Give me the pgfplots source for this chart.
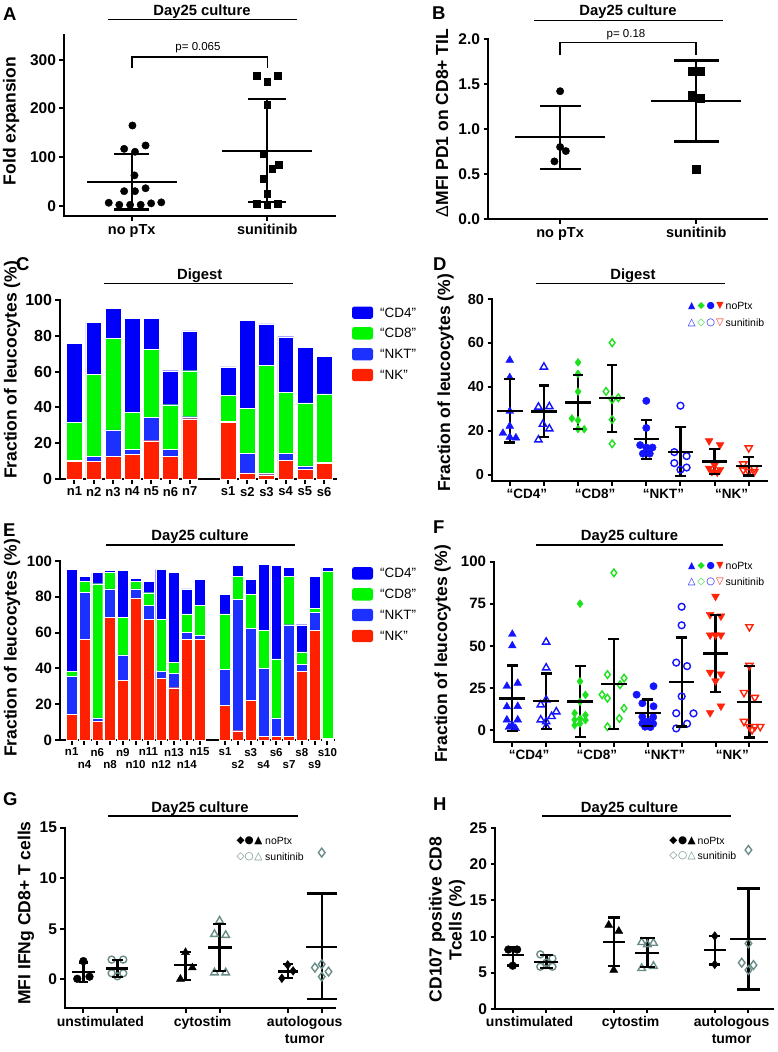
\documentclass[border=0pt]{standalone}
\usepackage{fontspec}
\setmainfont{Liberation Sans}
\newfontfamily\djv{DejaVu Sans}
\usepackage{pgfplots}
\pgfplotsset{compat=1.18}
\definecolor{cblue}{RGB}{0,0,250}
\definecolor{cnkt}{RGB}{28,48,255}
\definecolor{cgreen}{RGB}{0,245,0}
\definecolor{cred}{RGB}{255,32,0}
\definecolor{mblue}{RGB}{20,20,255}
\definecolor{mgreen}{RGB}{30,225,30}
\definecolor{mred}{RGB}{255,35,10}
\definecolor{sgrey}{RGB}{105,140,135}
\newcommand\fs[1]{\fontsize{#1}{#1}\selectfont}
\newcommand\msd[6]{%
 \addplot[black, line width=2.3pt, forget plot] coordinates {(#1,#3) (#1,#4)};
 \addplot[black, only marks, mark=-, mark size=#6pt, mark options={line width=2.3pt}, forget plot] coordinates {(#1,#3) (#1,#4)};
 \addplot[black, only marks, mark=-, mark size=#5pt, mark options={line width=2.3pt}, forget plot] coordinates {(#1,#2)};
}
\pgfplotsset{
 base/.style={scale only axis, anchor=south west, clip=false,
   axis x line*=bottom, axis y line*=left,
   axis line style={line width=2pt, line cap=rect, -},
   every outer x axis line/.append style={-}, every outer y axis line/.append style={-},
   tick align=outside, major tick length=4.5pt,
   tick style={line width=2pt, black},
   /pgf/number format/assume math mode=true},
 barseg/.style={draw=white, line width=0.35pt},
 mTriF/.style={only marks, mblue, mark=triangle*, mark size=4.5pt},
 mTriO/.style={only marks, mblue, mark=triangle, mark size=4.2pt, mark options={line width=1.4pt}},
 mDiaF/.style={only marks, mgreen, mark=diamond*, mark size=4pt},
 mDiaO/.style={only marks, mgreen, mark=diamond, mark size=3.8pt, mark options={line width=1.4pt}},
 mCirF/.style={only marks, mblue, mark=*, mark size=3.7pt},
 mCirO/.style={only marks, mblue, mark=o, mark size=3.4pt, mark options={line width=1.4pt}},
 mDowF/.style={only marks, mred, mark=triangle*, mark size=4.5pt, mark options={rotate=180}},
 mDowO/.style={only marks, mred, mark=triangle, mark size=4.2pt, mark options={rotate=180, line width=1.4pt}},
 gCirF/.style={only marks, black, mark=*, mark size=3.9pt},
 gCirO/.style={only marks, sgrey, mark=o, mark size=3.5pt, mark options={line width=1.4pt}},
 gTriF/.style={only marks, black, mark=triangle*, mark size=4.6pt},
 gTriO/.style={only marks, sgrey, mark=triangle, mark size=4.4pt, mark options={line width=1.4pt}},
 gDiaF/.style={only marks, black, mark=diamond*, mark size=4.4pt},
 gDiaO/.style={only marks, sgrey, mark=diamond, mark size=4.4pt, mark options={line width=1.4pt}},
}
\begin{document}
\begin{tikzpicture}
\path[use as bounding box] (0pt,0pt) rectangle (777pt,-1052pt);

% ================= A
\begin{axis}[base, at={(64pt,-216pt)}, width=271pt, height=181pt,
 xmin=0.5, xmax=2.5, ymin=-21, ymax=351,
 ytick={0,100,200,300}, xtick={1,2}, xticklabels={no pTx,sunitinib},
 yticklabel style={font=\bfseries\fs{15.5}}, xticklabel style={font=\bfseries\fs{14.5}}]
\addplot[only marks, black, mark=*, mark size=3.7pt] coordinates {(1.005,165)(0.944,117)(1.102,124)(1.024,111)(1.02,62.5)(0.944,30)(1.024,30)(1.102,36)(0.83,6.2)(0.908,2)(0.988,2)(1.066,2)(1.143,5)(1.218,7)};
\addplot[only marks, black, mark=square*, mark size=3.4pt] coordinates {(1.922,267)(2,255)(2.08,267)(2,207)(1.97,106)(2.085,84)(2.036,77)(1.97,56)(2,25)(1.922,5)(2,2)(2.08,4)};
\msd{1}{49}{106}{-7.6}{45}{17.5}
\msd{2}{112.5}{220}{7.6}{45}{19}
\addplot[black, line width=1.5pt] coordinates {(1,283)(1,306)(2,306)(2,283)};
\end{axis}

% ================= B
\begin{axis}[base, at={(488pt,-219pt)}, width=279pt, height=180pt,
 xmin=0.47, xmax=2.52, ymin=0, ymax=2,
 ytick={0,0.5,1,1.5,2}, xtick={1,2}, xticklabels={no pTx,sunitinib},
 yticklabel style={font=\bfseries\fs{15.5}, /pgf/number format/fixed, /pgf/number format/fixed zerofill, /pgf/number format/precision=1},
 xticklabel style={font=\bfseries\fs{14.5}}]
\addplot[only marks, black, mark=*, mark size=3.7pt] coordinates {(1,1.42)(1,0.80)(1.042,0.755)(0.958,0.64)};
\addplot[only marks, black, mark=square*, mark size=4pt] coordinates {(1.968,1.64)(2.03,1.64)(1.968,1.38)(2.03,1.345)(2,0.55)};
\msd{1}{0.91}{1.255}{0.555}{45}{20.5}
\msd{2}{1.315}{1.76}{0.86}{45}{22.5}
\addplot[black, line width=1.5pt] coordinates {(1,1.82)(1,1.96)(2,1.96)(2,1.82)};
\end{axis}

% ================= C
\begin{axis}[base, at={(60pt,-479pt)}, width=276pt, height=179pt,
 xmin=0.245, xmax=14.62, ymin=0, ymax=100, ybar stacked, bar width=0.82,
 ytick={0,20,40,60,80,100}, xtick={1,2,3,4,5,6,7,9,10,11,12,13,14},
 xticklabels={n1,n2,n3,n4,n5,n6,n7,s1,s2,s3,s4,s5,s6},
 yticklabel style={font=\bfseries\fs{16}}, xticklabel style={font=\bfseries\fs{13}}]
\addplot[fill=cred, barseg] coordinates {(1,9.7)(2,9.7)(3,12.5)(4,13.6)(5,21.4)(6,12.5)(7,33.7)(9,31.5)(10,3.4)(11,2.4)(12,10.4)(13,5.4)(14,8.6)};
\addplot[fill=cnkt, barseg] coordinates {(1,0.9)(2,2.8)(3,14.9)(4,3.0)(5,13.1)(6,4.1)(7,1.1)(9,0.9)(10,10.9)(11,1.0)(12,3.9)(13,2.0)(14,0.9)};
\addplot[fill=cgreen, barseg] coordinates {(1,20.9)(2,46.0)(3,51.2)(4,20.8)(5,37.9)(6,24.9)(7,25.7)(9,14.2)(10,25.2)(11,60.1)(12,34.3)(13,35.1)(14,38.0)};
\addplot[fill=cblue, barseg] coordinates {(1,44.3)(2,29.0)(3,16.9)(4,52.2)(5,17.2)(6,19.0)(7,22.2)(9,16.0)(10,49.1)(11,23.1)(12,30.9)(13,31.1)(14,21.0)};
\end{axis}

% ================= D
\begin{axis}[base, at={(492pt,-481pt)}, width=275pt, height=182pt,
 xmin=0.48, xmax=8.535, ymin=-2.73, ymax=80,
 ytick={0,20,40,60,80}, xtick={1,2,3,4,5,6,7,8}, xticklabels={,,,,,,,},
 extra x ticks={1.5,3.5,5.5,7.5}, extra x tick labels={“CD4”,“CD8”,“NKT”,“NK”},
 extra x tick style={major tick length=0pt, tick label style={yshift=-4.5pt}},
 yticklabel style={font=\bfseries\fs{14.5}}, xticklabel style={font=\bfseries\fs{13.5}}]
\addplot[mTriF] coordinates {(1,52.2)(1,44.3)(1,29.0)(1,22.2)(0.8,19.0)(1,17.2)(1.18,16.9)};
\addplot[mTriO] coordinates {(2,49.1)(2.16,31.1)(1.84,30.9)(1.97,23.1)(2.16,21.0)(1.84,16.0)};
\addplot[mDiaF] coordinates {(3,51.2)(3,46.0)(3,37.9)(2.82,25.7)(3,24.9)(3,20.9)(3.18,20.8)};
\addplot[mDiaO] coordinates {(4,60.1)(3.82,38.0)(4.18,35.1)(4,34.3)(4,25.2)(4,14.2)};
\addplot[mCirF] coordinates {(5,33.7)(5,21.4)(4.82,13.6)(5.18,12.5)(5,12.5)(4.9,9.7)(5.1,9.7)};
\addplot[mCirO] coordinates {(6,31.5)(5.82,10.4)(6.18,8.6)(5.82,5.4)(6.18,3.4)(6,2.4)};
\addplot[mDowF] coordinates {(6.84,15.5)(7.16,13.7)(7,4.5)(6.84,3.0)(7.16,2.5)(6.92,1.5)(7.08,1.2)};
\addplot[mDowO] coordinates {(8,12.3)(7.84,5.0)(8.16,3.0)(7.84,2.3)(8,1.5)(8.16,1.5)};
\msd{1}{29.1}{43.6}{14.8}{12.8}{5.3}
\msd{2}{28.9}{40.7}{17.2}{12.8}{5.3}
\msd{3}{33}{45.3}{20.8}{12.8}{5.3}
\msd{4}{34.9}{50.1}{19.7}{12.8}{5.3}
\msd{5}{16.3}{25}{7.2}{12.8}{5.3}
\msd{6}{10.6}{21.7}{-0.4}{12.8}{5.3}
\msd{7}{6.1}{11.9}{0.5}{12.8}{5.3}
\msd{8}{4.1}{8.3}{-0.2}{12.8}{5.3}
\end{axis}

% ================= E
\begin{axis}[base, at={(60pt,-740pt)}, width=274pt, height=179pt,
 xmin=0.085, xmax=21.52, ymin=0, ymax=100, ybar stacked, bar width=0.85,
 ytick={0,20,40,60,80,100}, xtick={1,3,5,7,9,11,13,15,17,19,21},
 xticklabels={n1,n6,n9,n11,n13,n15,s1,s3,s6,s8,s10},
 extra x ticks={2,4,6,8,10,14,16,18,20}, extra x tick labels={n4,n8,n10,n12,n14,s2,s4,s7,s9},
 extra x tick style={tick label style={yshift=-12.7pt}},
 yticklabel style={font=\bfseries\fs{15}}, xticklabel style={font=\bfseries\fs{11.5}}]
\addplot[fill=cred, barseg] coordinates {(1,14.3)(2,56.4)(3,10.4)(4,68.5)(5,33.3)(6,79.3)(7,67.6)(8,34.3)(9,29.2)(10,56.4)(11,56.4)(13,19.4)(14,5.2)(15,22.3)(16,2.2)(17,2.2)(18,2.2)(19,38.4)(20,61.3)(21,0.3)};
\addplot[fill=cnkt, barseg] coordinates {(1,21.1)(2,26.1)(3,1.9)(4,16.0)(5,14.2)(6,5.2)(7,7.8)(8,4.1)(9,8.0)(10,3.9)(11,2.1)(13,20.1)(14,73.2)(15,40.1)(16,38.0)(17,10.1)(18,62.2)(19,3.9)(20,10.0)(21,0.8)};
\addplot[fill=cgreen, barseg] coordinates {(1,3.0)(2,6.0)(3,75.0)(4,9.0)(5,21.0)(6,4.0)(7,6.9)(8,29.0)(9,6.2)(10,10.1)(11,16.9)(13,30.9)(14,13.0)(15,19.0)(16,21.1)(17,33.0)(18,27.0)(19,7.0)(20,2.1)(21,93.3)};
\addplot[fill=cblue, barseg] coordinates {(1,56.9)(2,3.1)(3,6.2)(4,1.1)(5,26.1)(6,1.8)(7,6.2)(8,27.9)(9,50.1)(10,14.0)(11,14.2)(13,11.0)(14,6.2)(15,8.2)(16,37.0)(17,52.3)(18,5.1)(19,15.1)(20,18.0)(21,2.1)};
\end{axis}

% ================= F
\begin{axis}[base, at={(494pt,-742pt)}, width=273pt, height=180.5pt,
 xmin=0.46, xmax=8.52, ymin=-6.95, ymax=100,
 ytick={0,25,50,75,100}, xtick={1,2,3,4,5,6,7,8}, xticklabels={,,,,,,,},
 extra x ticks={1.5,3.5,5.5,7.5}, extra x tick labels={“CD4”,“CD8”,“NKT”,“NK”},
 extra x tick style={major tick length=0pt, tick label style={yshift=-4.5pt}},
 yticklabel style={font=\bfseries\fs{15}}, xticklabel style={font=\bfseries\fs{13.5}}]
\addplot[mTriF] coordinates {(1,56.9)(1,50.1)(1.16,27.9)(0.84,26.1)(1.16,14.2)(0.84,14.0)(0.84,6.2)(1.16,6.2)(1,3.1)(0.9,1.8)(1.1,1.1)};
\addplot[mTriO] coordinates {(2,52.3)(2,37.0)(2,18.0)(1.84,15.1)(2.3,11.0)(2.16,8.2)(1.84,6.2)(2,5.1)(2,2.1)};
\addplot[mDiaF] coordinates {(3,75.0)(3,29.0)(3.16,21.0)(3,16.9)(2.84,10.1)(3.16,9.0)(3,6.9)(2.84,6.2)(3.16,6.0)(3,4.0)(2.84,3.0)};
\addplot[mDiaO] coordinates {(4,93.3)(3.81,33.0)(4.3,30.9)(4.18,27.0)(3.65,21.1)(3.81,19.0)(4.3,13.0)(4.16,7.0)(3.81,2.1)};
\addplot[mCirF] coordinates {(5.17,26.1)(4.67,21.1)(4.84,16.0)(5.17,14.2)(4.84,8.0)(5.16,7.8)(5,5.2)(4.84,4.1)(5.16,3.9)(4.92,2.1)(5.08,1.9)};
\addplot[mCirO] coordinates {(6,73.2)(6,62.2)(5.84,40.1)(6.16,38.0)(6,20.1)(5.84,10.1)(6.35,10.0)(6.16,3.9)(5.84,1.1)};
\addplot[mDowF] coordinates {(7,79.3)(6.84,68.5)(7.16,67.6)(6.84,56.4)(7.16,56.4)(7,56.4)(6.84,34.3)(7.16,33.3)(7,29.2)(7.16,14.3)(6.84,10.4)};
\addplot[mDowO] coordinates {(8,61.3)(8,38.4)(7.84,22.3)(8.16,19.4)(7.84,5.2)(8,2.2)(8.16,2.2)(8.32,2.2)(8.08,0.3)};
\msd{1}{18.8}{38.4}{-0.5}{12.8}{5.5}
\msd{2}{17.3}{33.7}{0.6}{12.8}{5.5}
\msd{3}{17.1}{37.9}{-3.9}{12.8}{5.5}
\msd{4}{27.4}{54.2}{0.6}{12.8}{5.5}
\msd{5}{10.1}{18.3}{2.4}{12.8}{5.5}
\msd{6}{28.5}{55}{2.2}{12.8}{5.5}
\msd{7}{45.5}{68.4}{22.7}{12.8}{5.5}
\msd{8}{16.9}{37.9}{-4.3}{12.8}{5.5}
\end{axis}

% ================= G
\begin{axis}[base, at={(65pt,-1008.3pt)}, width=270pt, height=180.6pt,
 xmin=0.46, xmax=8.39, ymin=-2.87, ymax=15,
 ytick={0,5,10,15}, xtick={1,2,4,5,7,8}, xticklabels={,,,,,},
 extra x ticks={1.5,4.5,7.5}, extra x tick labels={unstimulated,cytostim,autologous\\tumor},
 extra x tick style={major tick length=0pt, tick label style={yshift=-4.5pt, align=center}},
 yticklabel style={font=\bfseries\fs{15.5}}, xticklabel style={font=\bfseries\fontsize{14}{16.7}\selectfont}]
\addplot[gCirF] coordinates {(1,1.8)(0.82,0.05)(1.18,0.26)};
\addplot[gCirO] coordinates {(1.83,1.95)(2.17,1.95)(1.83,0.6)(2.17,0.6)(2,0.3)};
\addplot[gTriF] coordinates {(4,2.67)(4.2,1.15)(3.85,0.03)};
\addplot[gTriO] coordinates {(5,5.78)(4.85,4.46)(5.18,4.36)(4.85,0.66)(5.18,0.66)};
\addplot[gDiaF] coordinates {(7,1.42)(7.16,0.83)(6.83,0.1)};
\addplot[gDiaO] coordinates {(8,12.54)(7.8,1.16)(8,1.49)(8.2,0.76)(8,0.26)};
\msd{1}{0.73}{1.65}{-0.25}{11.5}{4.5}
\msd{2}{1.06}{1.9}{0.2}{11}{5.3}
\msd{4}{1.39}{2.67}{-0.07}{11.3}{5.3}
\msd{5}{3.14}{5.48}{0.83}{12}{6.7}
\msd{7}{0.76}{1.49}{0.13}{10}{5}
\msd{8}{3.23}{8.5}{-1.98}{15.7}{15}
\end{axis}

% ================= H
\begin{axis}[base, at={(495pt,-1008.7pt)}, width=278pt, height=180.4pt,
 xmin=0.474, xmax=8.73, ymin=0, ymax=25,
 ytick={0,5,10,15,20,25}, xtick={1,2,4,5,7,8}, xticklabels={,,,,,},
 extra x ticks={1.5,4.5,7.5}, extra x tick labels={unstimulated,cytostim,autologous\\tumor},
 extra x tick style={major tick length=0pt, tick label style={yshift=-4.5pt, align=center}},
 yticklabel style={font=\bfseries\fs{15.5}}, xticklabel style={font=\bfseries\fontsize{14}{16.7}\selectfont}]
\addplot[gCirF] coordinates {(0.87,8.2)(1.13,8.2)(1,5.96)};
\addplot[gCirO] coordinates {(1.82,7.53)(2.18,6.97)(2,6.37)(1.82,5.82)(2.18,5.82)};
\addplot[gTriF] coordinates {(3.85,11.6)(4.15,10.76)(4,5.36)};
\addplot[gTriO] coordinates {(4.83,9.2)(5.18,9.1)(5,8.9)(4.83,5.6)(5.18,5.9)};
\addplot[gDiaF] coordinates {(7,10.07)(7,6.14)};
\addplot[gDiaO] coordinates {(8,22.0)(8,9.05)(7.8,6.37)(8.15,6.05)(8,5.36)};
\msd{1}{7.44}{8.6}{6.0}{10.8}{5.8}
\msd{2}{6.51}{7.45}{5.6}{12}{6.7}
\msd{4}{9.24}{12.66}{5.96}{10.8}{5.8}
\msd{5}{7.76}{9.8}{5.8}{12}{7.5}
\msd{7}{8.13}{10.07}{6.14}{10.8}{5.3}
\msd{8}{9.7}{16.67}{2.68}{18}{11.7}
\end{axis}

% ================= texts
\begin{scope}[every node/.style={inner sep=0pt}]
\foreach \l/\x/\y in {A/3/20, B/432/19.5, C/16/270.5, D/433/270, E/3/536.7, F/433/533.3, G/3/805, H/433/810}
  \node[anchor=base west, font=\bfseries\fs{18.5}] at (\x pt,-\y pt) {\l};
\foreach \t/\x/\y/\a/\b/\ly in {Day25 culture/202/15.5/108/297/19.3, Day25 culture/628/15.5/534/723/20.7,
   Digest/199.7/279.3/104/293/283.3, Digest/633/279.3/536/725/283.7,
   Day25 culture/200/540/106/295/545, Day25 culture/629.5/540/536/723/545,
   Day25 culture/200/812/108/298/816, Day25 culture/629.5/812/542/731/816}{
  \node[anchor=base, font=\bfseries\fs{14.8}] at (\x pt,-\y pt) {\t};
  \draw[line width=1.3pt] (\a pt,-\ly pt) -- (\b pt,-\ly pt);
}
\node[anchor=base, font=\fs{11.5}] at (198pt,-50pt) {p= 0.065};
\node[anchor=base, font=\fs{11.5}] at (626pt,-37.3pt) {p= 0.18};
% y labels
\node[rotate=90, anchor=base, font=\bfseries\fs{17.5}] at (15.7pt,-121pt) {Fold expansion};
\node[rotate=90, anchor=base, font=\bfseries\fs{17.5}] at (448pt,-123pt) {{\mdseries Δ}MFI PD1 on CD8+ TIL};
\node[rotate=90, anchor=base, font=\bfseries\fs{17.5}] at (16.5pt,-370pt) {Fraction of leucocytes (\%)};
\node[rotate=90, anchor=base, font=\bfseries\fs{17.5}] at (450pt,-383pt) {Fraction of leucocytes (\%)};
\node[rotate=90, anchor=base, font=\bfseries\fs{17.5}] at (16.5pt,-648pt) {Fraction of leucocytes (\%)};
\node[rotate=90, anchor=base, font=\bfseries\fs{17.5}] at (447pt,-654pt) {Fraction of leucocytes (\%)};
\node[rotate=90, anchor=base, font=\bfseries\fs{17.5}] at (30.5pt,-913pt) {MFI IFNg CD8+ T cells};
\node[rotate=90, anchor=base, font=\bfseries\fs{17.5}] at (441.5pt,-919.5pt) {CD107 positive CD8};
\node[rotate=90, anchor=base, font=\bfseries\fs{17.5}] at (461.5pt,-920pt) {Tcells (\%)};
% legends C and E
\foreach \yy/\c/\t in {312.7/cblue/“CD4”, 333.3/cgreen/“CD8”, 354.2/cnkt/“NKT”, 375/cred/“NK”,
                      573.3/cblue/“CD4”, 594.3/cgreen/“CD8”, 615/cnkt/“NKT”, 636/cred/“NK”}{
  \fill[\c, rounded corners=2.5pt] (352pt,-\yy pt+6.2pt) rectangle (373pt,-\yy pt-6.2pt);
  \node[anchor=west, font=\fs{13.5}] at (380pt,-\yy pt) {\t};
}
% legends D and F
\foreach \yy/\yb in {306/323, 566/581.7}{
  \node[text=mblue, font=\djv\fs{9.5}] at (691.7pt,-\yy pt) {▲};
  \node[text=mgreen, font=\djv\fs{9.5}] at (701.2pt,-\yy pt) {◆};
  \node[text=mblue, font=\djv\fs{9.5}] at (710.7pt,-\yy pt) {●};
  \node[text=mred, font=\djv\fs{9.5}] at (720pt,-\yy pt) {▼};
  \node[anchor=west, font=\fs{10.5}] at (725.5pt,-\yy pt) {noPtx};
  \node[text=mblue, font=\djv\bfseries\fs{10}] at (691.7pt,-\yb pt) {△};
  \node[text=mgreen, font=\djv\bfseries\fs{10}] at (701.2pt,-\yb pt) {◇};
  \node[text=mblue, font=\djv\bfseries\fs{10}] at (710.7pt,-\yb pt) {○};
  \node[text=mred, font=\djv\bfseries\fs{10}] at (720pt,-\yb pt) {▽};
  \node[anchor=west, font=\fs{10.5}] at (725.5pt,-\yb pt) {sunitinib};
}
% legends G and H
\foreach \xa/\xb/\xc/\xt/\ya/\yb in {240.7/249.3/258.3/265/841/856.7, 673.3/682.7/691.7/697.5/841/856}{
  \node[font=\djv\fs{10.5}] at (\xa pt,-\ya pt) {◆};
  \node[font=\djv\fs{10.5}] at (\xb pt,-\ya pt) {●};
  \node[font=\djv\fs{10.5}] at (\xc pt,-\ya pt) {▲};
  \node[anchor=west, font=\fs{10.5}] at (\xt pt,-\ya pt) {noPtx};
  \node[text=sgrey, font=\djv\bfseries\fs{10.5}] at (\xa pt,-\yb pt) {◇};
  \node[text=sgrey, font=\djv\bfseries\fs{10.5}] at (\xb pt,-\yb pt) {○};
  \node[text=sgrey, font=\djv\bfseries\fs{10.5}] at (\xc pt,-\yb pt) {△};
  \node[anchor=west, font=\fs{10.5}] at (\xt pt,-\yb pt) {sunitinib};
}
\end{scope}
\end{tikzpicture}
\end{document}
